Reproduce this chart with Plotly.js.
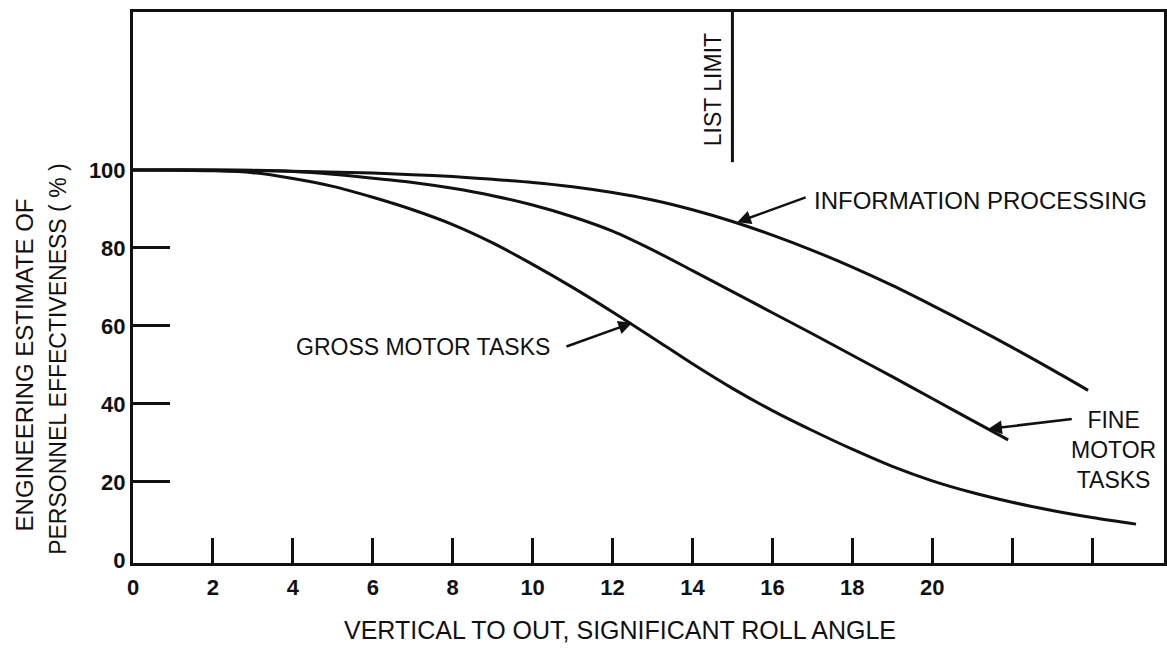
<!DOCTYPE html>
<html>
<head>
<meta charset="utf-8">
<script src="https://cdn.plot.ly/plotly-3.0.1.min.js"></script>
<style>html,body{margin:0;padding:0;background:#fff;}#chart{width:1167px;height:655px;}</style>
</head>
<body>
<div id="chart"></div>
<script>
// Roll angle (x) and personnel effectiveness (%)
var infoX  = [0, 2, 4, 6, 7, 8, 9, 10, 11, 12, 13, 14, 15, 16, 17, 18, 19, 20, 21, 22, 23, 23.9];
var infoY  = [100, 100, 99.7, 99.2, 98.8, 98.3, 97.6, 96.8, 95.7, 94.2, 92.3, 89.8, 86.8, 83.3, 79.4, 75.1, 70.4, 65.3, 60, 54.5, 48.8, 43.5];

var fineX  = [0, 2, 3, 4, 5, 6, 7, 8, 9, 10, 11, 12, 13, 14, 15, 16, 17, 18, 19, 20, 21, 21.9];
var fineY  = [100, 100, 99.9, 99.6, 98.9, 97.9, 96.8, 95.3, 93.4, 91, 88, 84.3, 79.5, 74.2, 68.8, 63.4, 58, 52.5, 47, 41.4, 35.8, 30.8];

var grossX = [0, 2, 3, 4, 5, 6, 7, 8, 9, 10, 11, 12, 13, 14, 15, 16, 17, 18, 19, 20, 21, 22, 23, 24, 25.1];
var grossY = [100, 99.8, 99.3, 97.8, 95.8, 93, 89.8, 86, 81.3, 75.8, 69.9, 63.6, 57, 50.3, 44, 38.3, 33.2, 28.4, 24, 20.3, 17.3, 14.8, 12.7, 10.9, 9.2];

var xTickVals  = [0, 2, 4, 6, 8, 10, 12, 14, 16, 18, 20, 22, 24];
var xTickText  = ['0', '2', '4', '6', '8', '10', '12', '14', '16', '18', '20', '', ''];
var yLabelVals = [0, 20, 40, 60, 80, 100];
var yLabelText = ['0', '20', '40', '60', '80', '100'];
var yTickMarks = [20, 40, 60, 80];

var listLimitX = 15;
var listLimitBottom = 102;

var curveLabels = ['INFORMATION PROCESSING', 'FINE<br>MOTOR<br>TASKS', 'GROSS MOTOR TASKS'];
var xTitle = 'VERTICAL TO OUT, SIGNIFICANT ROLL ANGLE';
var yTitle1 = 'ENGINEERING ESTIMATE OF';
var yTitle2 = 'PERSONNEL EFFECTIVENESS ( % )';
var listLimitLabel = 'LIST LIMIT';

var X_MAX = 25.8, Y_MIN = -0.77, Y_MAX = 140.5;
var ink = '#111';
var lineStyle = {color: ink, width: 3, shape: 'spline', smoothing: 0.9};

var traces = [
  {x: infoX, y: infoY, mode: 'lines', line: lineStyle, name: 'Information processing'},
  {x: fineX, y: fineY, mode: 'lines', line: lineStyle, name: 'Fine motor tasks'},
  {x: grossX, y: grossY, mode: 'lines', line: lineStyle, name: 'Gross motor tasks'},
  {x: [null], y: [null], yaxis: 'y2', mode: 'lines', hoverinfo: 'skip'}
];

var fam = 'Liberation Sans, Arial, sans-serif';
var txtFont = {family: fam, size: 23, color: ink};

function arrow(tipX, tipY, tailX, tailY) {
  return {x: tipX, y: tipY, ax: tailX, ay: tailY, xref: 'x', yref: 'y', axref: 'x', ayref: 'y',
          text: '', showarrow: true, arrowhead: 2, arrowsize: 1.1, arrowwidth: 2.5, arrowcolor: ink};
}

var layout = {
  width: 1167, height: 655,
  margin: {l: 133, r: 3, t: 12, b: 92},
  paper_bgcolor: '#fff', plot_bgcolor: '#fff',
  showlegend: false,
  xaxis: {
    range: [0, X_MAX], tickvals: xTickVals, ticktext: xTickText,
    ticks: 'inside', ticklen: 25, tickwidth: 3, tickcolor: ink,
    showline: true, linewidth: 3, linecolor: ink, mirror: true,
    showgrid: false, zeroline: false, ticklabelstandoff: 3,
    tickfont: {family: fam, size: 22, color: ink, weight: 'bold'}
  },
  yaxis: {
    range: [Y_MIN, Y_MAX], tickvals: yLabelVals, ticktext: yLabelText,
    ticks: '', showline: true, linewidth: 3, linecolor: ink, mirror: true,
    showgrid: false, zeroline: false, ticklabelstandoff: 0,
    tickfont: {family: fam, size: 22, color: ink, weight: 'bold'}
  },
  yaxis2: {
    overlaying: 'y', side: 'left', range: [Y_MIN, Y_MAX], tickvals: yTickMarks,
    showticklabels: false, ticks: 'inside', ticklen: 37, tickwidth: 3, tickcolor: ink,
    showline: false, showgrid: false, zeroline: false
  },
  shapes: [
    {type: 'line', xref: 'x', yref: 'y', x0: listLimitX, x1: listLimitX, y0: listLimitBottom, y1: Y_MAX,
     line: {color: ink, width: 3}}
  ],
  annotations: [
    {x: 17.0, y: 92.3, xref: 'x', yref: 'y', text: curveLabels[0], showarrow: false,
     xanchor: 'left', yanchor: 'middle', font: {family: fam, size: 24, color: ink}},
    arrow(15.12, 86.6, 16.87, 93.1),
    {x: 24.53, y: 28.2, xref: 'x', yref: 'y', text: curveLabels[1], showarrow: false,
     xanchor: 'center', yanchor: 'middle', align: 'center', font: txtFont},
    arrow(21.4, 33.6, 23.53, 36.2),
    {x: 10.49, y: 54.6, xref: 'x', yref: 'y', text: curveLabels[2], showarrow: false,
     xanchor: 'right', yanchor: 'middle', font: txtFont},
    arrow(12.49, 60.8, 10.81, 54.6),
    {x: 14.52, y: 120.5, xref: 'x', yref: 'y', text: listLimitLabel, showarrow: false, textangle: -90,
     xanchor: 'center', yanchor: 'middle', font: txtFont},
    {x: 0.472, y: -0.1216, xref: 'paper', yref: 'paper', text: xTitle, showarrow: false,
     xanchor: 'center', yanchor: 'middle', font: {family: fam, size: 25, color: ink}},
    {x: -0.105, y: 0.36, xref: 'paper', yref: 'paper', text: yTitle1, showarrow: false, textangle: -90,
     xanchor: 'center', yanchor: 'middle', font: {family: fam, size: 24, color: ink}},
    {x: -0.073, y: 0.37, xref: 'paper', yref: 'paper', text: yTitle2, showarrow: false, textangle: -90,
     xanchor: 'center', yanchor: 'middle', font: txtFont}
  ]
};

Plotly.newPlot('chart', traces, layout, {staticPlot: true, displayModeBar: false});
</script>
</body>
</html>
